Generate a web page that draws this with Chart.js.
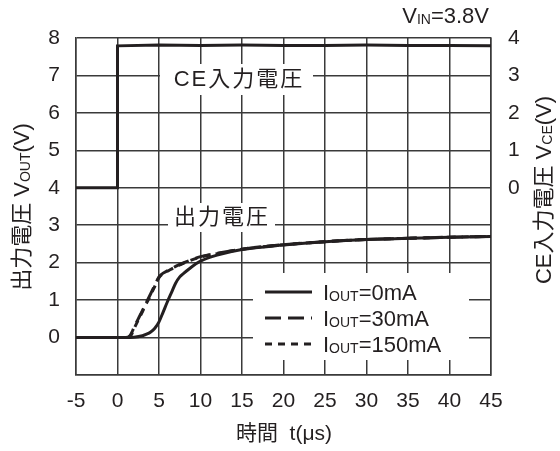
<!DOCTYPE html>
<html>
<head>
<meta charset="utf-8">
<script src="https://cdn.jsdelivr.net/npm/chart.js@4"></script>
<style>
  html, body { margin: 0; padding: 0; background: #fff; }
  #wrap { width: 560px; height: 451px; }
</style>
</head>
<body>
<div id="wrap"><canvas id="chart" width="560" height="451"></canvas></div>
<script>
// CE入力電圧 (右軸)
const timeCE = [-5, 0, 0, 5, 10, 15, 20, 25, 30, 35, 40, 45];
const vce = [0, 0, 3.79, 3.81, 3.8, 3.81, 3.8, 3.8, 3.81, 3.8, 3.8, 3.79];

// 出力電圧 IOUT=0mA
const time0 = [-5, 0, 1, 2, 3, 3.5, 4, 4.5, 5, 5.5, 6, 6.5, 7, 7.5, 8, 9, 10, 12, 15, 20, 25, 30, 35, 40, 45];
const vout0 = [0, 0, 0, 0.01, 0.05, 0.09, 0.15, 0.25, 0.42, 0.68, 0.95, 1.2, 1.45, 1.62, 1.72, 1.9, 2.04, 2.2, 2.35, 2.47, 2.56, 2.62, 2.65, 2.68, 2.7];

// IOUT=30mA
const time30 = [-5, 0, 1, 1.5, 2, 2.5, 3, 3.5, 4, 4.5, 5, 5.5, 6, 7, 8, 10, 12, 15, 20, 25, 30, 35, 40, 45];
const vout30 = [0, 0, 0, 0.05, 0.27, 0.5, 0.72, 0.95, 1.17, 1.4, 1.62, 1.72, 1.78, 1.9, 2.0, 2.16, 2.25, 2.36, 2.48, 2.56, 2.62, 2.65, 2.68, 2.7];

// IOUT=150mA
const time150 = [-5, 0, 1, 1.6, 2, 2.5, 3, 3.5, 4, 4.5, 5, 5.5, 6, 7, 8, 10, 12, 15, 20, 25, 30, 35, 40, 45];
const vout150 = [0, 0, 0, 0.05, 0.24, 0.47, 0.69, 0.92, 1.14, 1.37, 1.6, 1.71, 1.77, 1.89, 1.99, 2.15, 2.24, 2.36, 2.48, 2.56, 2.62, 2.65, 2.68, 2.7];

const xTicks = { min: -5, max: 45, step: 5 };
const yTicks = { min: -1, max: 8 };
const y2Ticks = { min: -5, max: 4 };

const legendItems = [
  { sub: "OUT", text: "=0mA", dash: [] },
  { sub: "OUT", text: "=30mA", dash: [16, 7] },
  { sub: "OUT", text: "=150mA", dash: [7, 6] }
];

const FONT = "'Liberation Sans', 'Noto Sans CJK JP', sans-serif";
const INK = "#231f20";
const GRID = "#3a3a3a";

const zip = (xs, ys) => xs.map((x, i) => ({ x, y: ys[i] }));

// 下付き文字を含むテキスト
const richWidth = (ctx, parts) => parts.reduce((w, p) => {
  ctx.font = `${p.f}px ${FONT}`;
  return w + ctx.measureText(p.t).width;
}, 0);

const drawRich = (ctx, parts, x, y, align) => {
  const w = richWidth(ctx, parts);
  let cx = align === "center" ? x - w / 2 : align === "right" ? x - w : x;
  ctx.textAlign = "left";
  ctx.textBaseline = "alphabetic";
  parts.forEach(p => {
    ctx.font = `${p.f}px ${FONT}`;
    ctx.fillText(p.t, cx, y + (p.dy || 0));
    cx += ctx.measureText(p.t).width;
  });
};

const overlay = {
  id: "overlay",
  beforeDatasetsDraw(chart) {
    const { ctx } = chart;
    ctx.save();
    ctx.fillStyle = "#fff";
    ctx.fillRect(160, 64, 153, 31);
    ctx.fillRect(168, 203, 107, 29);
    ctx.fillRect(253, 273, 216, 87);

    ctx.fillStyle = INK;
    ctx.font = `22px ${FONT}`;
    ctx.letterSpacing = "2px";
    ctx.textAlign = "center";
    ctx.textBaseline = "middle";
    ctx.fillText("CE入力電圧", 239, 80);
    ctx.fillText("出力電圧", 222, 218);
    ctx.letterSpacing = "0px";

    // 凡例
    legendItems.forEach((item, i) => {
      const cy = 292 + i * 26;
      ctx.strokeStyle = INK;
      ctx.lineWidth = 3;
      ctx.setLineDash(item.dash);
      ctx.beginPath();
      ctx.moveTo(265, cy);
      ctx.lineTo(312, cy);
      ctx.stroke();
      ctx.setLineDash([]);
      drawRich(ctx, [{ t: "I", f: 22 }, { t: item.sub, f: 14, dy: 1 }, { t: item.text, f: 22 }], 323, cy + 8, "left");
    });
    ctx.restore();
  },
  afterDraw(chart) {
    const { ctx } = chart;
    ctx.save();
    ctx.fillStyle = INK;
    drawRich(ctx, [{ t: "V", f: 22 }, { t: "IN", f: 14, dy: 1 }, { t: "=3.8V", f: 22 }], 489, 23, "right");
    drawRich(ctx, [{ t: "時間  t(μs)", f: 21 }], 284, 440, "center");

    ctx.translate(21, 207);
    ctx.rotate(-Math.PI / 2);
    drawRich(ctx, [{ t: "出力電圧 V", f: 22 }, { t: "OUT", f: 14, dy: 1 }, { t: "(V)", f: 22 }], 0, 8, "center");
    ctx.restore();

    ctx.save();
    ctx.fillStyle = INK;
    ctx.translate(543, 190);
    ctx.rotate(-Math.PI / 2);
    drawRich(ctx, [{ t: "CE入力電圧 V", f: 22 }, { t: "CE", f: 14, dy: 1 }, { t: "(V)", f: 22 }], 0, 8, "center");
    ctx.restore();
  }
};

const lineStyle = {
  borderColor: INK,
  borderWidth: 3,
  pointRadius: 0,
  fill: false
};

new Chart(document.getElementById("chart"), {
  type: "line",
  data: {
    datasets: [
      { ...lineStyle, label: "CE", data: zip(timeCE, vce), yAxisID: "y2", tension: 0 },
      { ...lineStyle, label: "IOUT=150mA", data: zip(time150, vout150), borderDash: [7, 6], cubicInterpolationMode: "monotone" },
      { ...lineStyle, label: "IOUT=30mA", data: zip(time30, vout30), borderDash: [16, 7], cubicInterpolationMode: "monotone" },
      { ...lineStyle, label: "IOUT=0mA", data: zip(time0, vout0), cubicInterpolationMode: "monotone" }
    ]
  },
  options: {
    responsive: false,
    animation: false,
    events: [],
    layout: { padding: { top: 38, left: 0, right: 0, bottom: 0 } },
    plugins: {
      legend: { display: false },
      tooltip: { enabled: false }
    },
    scales: {
      x: {
        type: "linear",
        min: xTicks.min,
        max: xTicks.max,
        afterFit: s => { s.height = 76; },
        ticks: { stepSize: xTicks.step, color: INK, font: { size: 21, family: FONT }, padding: 14, maxRotation: 0 },
        grid: { color: GRID, lineWidth: 1.5, drawTicks: false },
        border: { color: GRID, width: 1.5 }
      },
      y: {
        position: "left",
        min: yTicks.min,
        max: yTicks.max,
        afterFit: s => { s.width = 76; },
        ticks: { stepSize: 1, color: INK, font: { size: 21, family: FONT }, padding: 16, callback: v => v < 0 ? "" : v },
        grid: { color: GRID, lineWidth: 1.5, drawTicks: false },
        border: { color: GRID, width: 1.5 }
      },
      y2: {
        position: "right",
        min: y2Ticks.min,
        max: y2Ticks.max,
        afterFit: s => { s.width = 69; },
        ticks: { stepSize: 1, color: INK, font: { size: 21, family: FONT }, padding: 17, callback: v => v < 0 ? "" : v },
        grid: { display: false, drawTicks: false },
        border: { color: GRID, width: 1.5 }
      }
    }
  },
  plugins: [overlay]
});
</script>
</body>
</html>
